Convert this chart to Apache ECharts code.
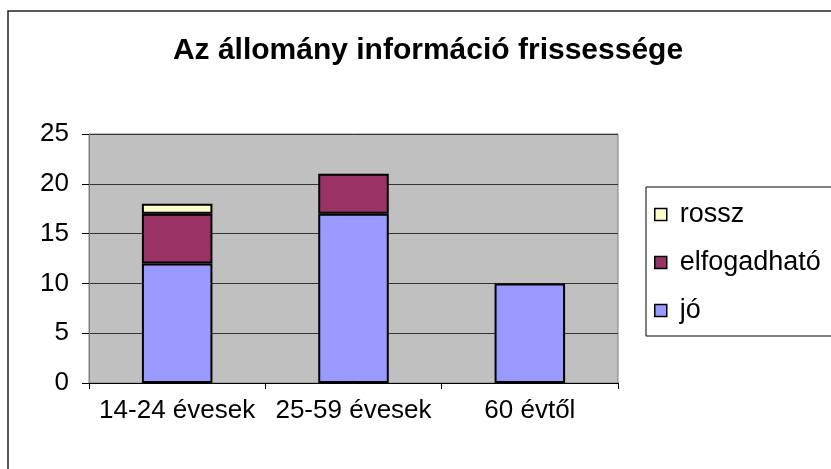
<!DOCTYPE html>
<html>
<head>
  <meta charset="utf-8">
  <script src="https://cdn.jsdelivr.net/npm/echarts@6/dist/echarts.min.js"></script>
  <title>Az állomány információ frissessége</title>
  <style>
    html, body { margin: 0; padding: 0; background: #fff; }
    #chart { width: 831px; height: 469px; }
  </style>
</head>
<body>
  <div id="chart"></div>
  <script>
    const categories = ["14-24 évesek", "25-59 évesek", "60 évtől"];
    const jo = [12, 17, 10];
    const elfogadhato = [5, 4, 0];
    const rossz = [1, 0, 0];
    const yTicks = [0, 5, 10, 15, 20, 25];

    const font = "Liberation Sans, Arial, sans-serif";
    const barBorder = { borderColor: "#000", borderWidth: 2 };

    const chart = echarts.init(document.getElementById("chart"));

    chart.setOption({
      backgroundColor: "#fff",
      animation: false,
      title: {
        text: "Az állomány információ frissessége",
        left: 423,
        top: 31,
        textAlign: "center",
        textStyle: { fontFamily: font, fontSize: 30, fontWeight: "bold", color: "#000" }
      },
      graphic: [
        {
          type: "rect",
          shape: { x: 8, y: 11, width: 900, height: 500 },
          style: { fill: "none", stroke: "#222", lineWidth: 1.5 },
          silent: true
        }
      ],
      legend: {
        orient: "vertical",
        left: 646,
        top: 187,
        data: ["rossz", "elfogadható", "jó"],
        icon: "rect",
        itemWidth: 12,
        itemHeight: 12,
        itemGap: 21,
        padding: [14, 40, 12, 8],
        borderColor: "#000",
        borderWidth: 1,
        itemStyle: { borderColor: "#000", borderWidth: 1.5 },
        textStyle: { fontFamily: font, fontSize: 27, color: "#000", padding: [0, 0, 0, 8], lineHeight: 26 }
      },
      grid: {
        left: 89,
        top: 134,
        right: 213,
        bottom: 86,
        show: true,
        backgroundColor: "#C0C0C0",
        borderColor: "#808080",
        borderWidth: 1
      },
      xAxis: {
        type: "category",
        data: categories,
        axisLine: { lineStyle: { color: "#000", width: 1 } },
        axisTick: { show: true, length: 6, lineStyle: { color: "#000" } },
        axisLabel: { interval: 0, fontFamily: font, fontSize: 26, color: "#000", margin: 15 }
      },
      yAxis: {
        type: "value",
        min: yTicks[0],
        max: yTicks[yTicks.length - 1],
        interval: 5,
        axisLine: { show: true, lineStyle: { color: "#808080", width: 1 } },
        axisTick: { show: true, length: 7, lineStyle: { color: "#000" } },
        axisLabel: { fontFamily: font, fontSize: 26, color: "#000", margin: 20 },
        splitLine: { show: true, lineStyle: { color: "#333", width: 1 } }
      },
      series: [
        {
          name: "jó",
          type: "bar",
          stack: "all",
          barWidth: "40%",
          data: jo,
          itemStyle: Object.assign({ color: "#9999FF" }, barBorder)
        },
        {
          name: "elfogadható",
          type: "bar",
          stack: "all",
          data: elfogadhato.map(v => (v === 0 ? null : v)),
          itemStyle: Object.assign({ color: "#993366" }, barBorder)
        },
        {
          name: "rossz",
          type: "bar",
          stack: "all",
          data: rossz.map(v => (v === 0 ? null : v)),
          itemStyle: Object.assign({ color: "#FFFFCC" }, barBorder)
        }
      ]
    });
  </script>
</body>
</html>
